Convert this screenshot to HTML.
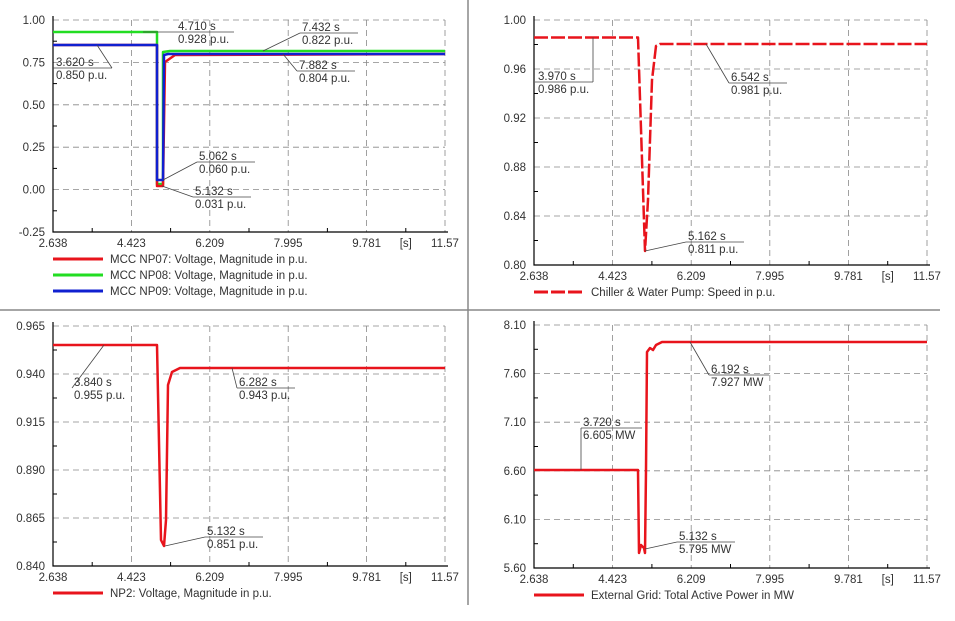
<!DOCTYPE html>
<html><head><meta charset="utf-8"><style>
body{margin:0;background:#fff;width:955px;height:621px;overflow:hidden}
svg{display:block;font-family:"Liberation Sans",Arial,sans-serif}
</style></head><body>
<svg id="s" width="955" height="621" viewBox="0 0 955 621" xmlns="http://www.w3.org/2000/svg">
<line x1="468" y1="0" x2="468" y2="605" stroke="#888" stroke-width="1.5"/>
<line x1="0" y1="310" x2="940" y2="310" stroke="#888" stroke-width="1.5"/>
</svg>
<script>
const S=document.getElementById('s');let h='';
const xl=['2.638','4.423','6.209','7.995','9.781','','11.57'];
function panel(x0,x1,y0,y1,yl,legs){
  const w=x1-x0,n=yl.length-1;
  for(let i=0;i<=5;i++){const x=x0+w*i/5;
    if(i>0)h+=`<line x1="${x}" y1="${y0}" x2="${x}" y2="${y1}" stroke="#888" stroke-dasharray="6,4" stroke-width="0.8"/>`;
    h+=`<text x="${x}" y="${y1+15}" font-size="11.5" text-anchor="middle" fill="#333">${xl[i==5?6:i]}</text>`;}
  h+=`<text x="${x0+w*0.9}" y="${y1+15}" font-size="11.5" text-anchor="middle" fill="#333">[s]</text>`;
  for(let i=0;i<5;i++){const x=x0+w*(i+0.5)/5;h+=`<line x1="${x}" y1="${y1}" x2="${x}" y2="${y1-4}" stroke="#000"/>`;}
  for(let j=0;j<=n;j++){const y=y0+(y1-y0)*j/n;
    if(j<n)h+=`<line x1="${x0}" y1="${y}" x2="${x1}" y2="${y}" stroke="#888" stroke-dasharray="6,4" stroke-width="0.8"/>`;
    if(j<n)h+=`<line x1="${x0}" y1="${y+(y1-y0)/n/2}" x2="${x0+4}" y2="${y+(y1-y0)/n/2}" stroke="#000"/>`;
    h+=`<text x="${x0-8}" y="${y+4}" font-size="11.5" text-anchor="end" fill="#333">${yl[j]}</text>`;}
  h+=`<polyline points="${x0},${y0-4} ${x0},${y1} ${x1+3},${y1}" fill="none" stroke="#000" stroke-width="1.2"/>`;
  legs.forEach((l,k)=>{const y=y1+31+k*16;
    h+=`<line x1="${x0}" y1="${y-4}" x2="${x0+50}" y2="${y-4}" stroke="${l[0]}" stroke-width="3" ${l[2]||''}/>`;
    h+=`<text x="${x0+57}" y="${y}" font-size="11.5" fill="#333">${l[1]}</text>`;});
}
function pl(pts,c,extra){h+=`<polyline points="${pts}" fill="none" stroke="${c}" stroke-width="2.5" stroke-linejoin="round" ${extra||''}/>`;}
function ann(px,py,lx,ly,t1,t2,wd){
  h+=`<line x1="${px}" y1="${py}" x2="${lx}" y2="${ly}" stroke="#444" stroke-width="0.8"/>`;
  h+=`<line x1="${lx}" y1="${ly}" x2="${lx+wd}" y2="${ly}" stroke="#444" stroke-width="0.8"/>`;
  h+=`<text x="${lx+2}" y="${ly-2}" font-size="11.5" fill="#333">${t1}</text>`;
  h+=`<text x="${lx+2}" y="${ly+11}" font-size="11.5" fill="#333">${t2}</text>`;}
// panel 1
panel(53,445,20,232,['1.00','0.75','0.50','0.25','0.00','-0.25'],[['#e8141c','MCC NP07: Voltage, Magnitude in p.u.'],['#22dd22','MCC NP08: Voltage, Magnitude in p.u.'],['#1020d0','MCC NP09: Voltage, Magnitude in p.u.']]);
pl('53,32 157,32 157,184 163,184 163,52 170,51 445,51','#22dd22');
pl('53,45 157,45 157,186 163,186 165,62 175,55 445,54','#e8141c');
pl('53,45 157,45 157,180 163,180 164,55 168,54 445,54','#1020d0');
ann(143,32,176,32,'4.710 s','0.928 p.u.',58);
ann(263,51,300,33,'7.432 s','0.822 p.u.',58);
h+=`<line x1="97" y1="45" x2="112" y2="68" stroke="#444" stroke-width="0.8"/><line x1="53" y1="68" x2="112" y2="68" stroke="#444" stroke-width="0.8"/>`;
h+=`<text x="56" y="66" font-size="11.5" fill="#333">3.620 s</text><text x="56" y="79" font-size="11.5" fill="#333">0.850 p.u.</text>`;
ann(283,54,297,71,'7.882 s','0.804 p.u.',58);
ann(163,180,197,162,'5.062 s','0.060 p.u.',58);
ann(162,186,193,197,'5.132 s','0.031 p.u.',58);
// panel 2
panel(534,927,20,265,['1.00','0.96','0.92','0.88','0.84','0.80'],[['#e8141c','Chiller &amp; Water Pump: Speed in p.u.','stroke-dasharray="14,3"']]);
pl('534,37.5 638,37.5 645,251 648,200 652,80 656,46 660,44 927,44','#e8141c','stroke-dasharray="14,3"');
ann(593,37.5,593,82,'','',-58);
h+=`<text x="538" y="80" font-size="11.5" fill="#333">3.970 s</text><text x="538" y="93" font-size="11.5" fill="#333">0.986 p.u.</text>`;
ann(706,44,729,83,'6.542 s','0.981 p.u.',58);
ann(645,251,686,242,'5.162 s','0.811 p.u.',58);
// panel 3
panel(53,445,326,566,['0.965','0.940','0.915','0.890','0.865','0.840'],[['#e8141c','NP2: Voltage, Magnitude in p.u.']]);
pl('53,345 157,345 161,540 164,546 166,520 168,385 172,372 180,368 445,368','#e8141c');
ann(104,345,72,388,'3.840 s','0.955 p.u.',58);
h=h.replace(/<line x1="72" y1="388" x2="130"[^>]*>/,'');
ann(232,368,237,388,'6.282 s','0.943 p.u.',58);
ann(165,546,205,537,'5.132 s','0.851 p.u.',58);
// panel 4
panel(534,927,325,568,['8.10','7.60','7.10','6.60','6.10','5.60'],[['#e8141c','External Grid: Total Active Power in MW']]);
pl('534,470 638,470 639,553 641,545 644,548 645,553 646,470 647,352 650,348 653,350 656,345 662,342 927,342','#e8141c');
ann(581,470,581,428,'3.720 s','6.605 MW',-0);
h+=`<line x1="581" y1="428" x2="642" y2="428" stroke="#444" stroke-width="0.8"/>`;
ann(690,342,709,375,'6.192 s','7.927 MW',60);
ann(645,549,677,542,'5.132 s','5.795 MW',58);
S.insertAdjacentHTML('beforeend',h);
</script>
</body></html>
